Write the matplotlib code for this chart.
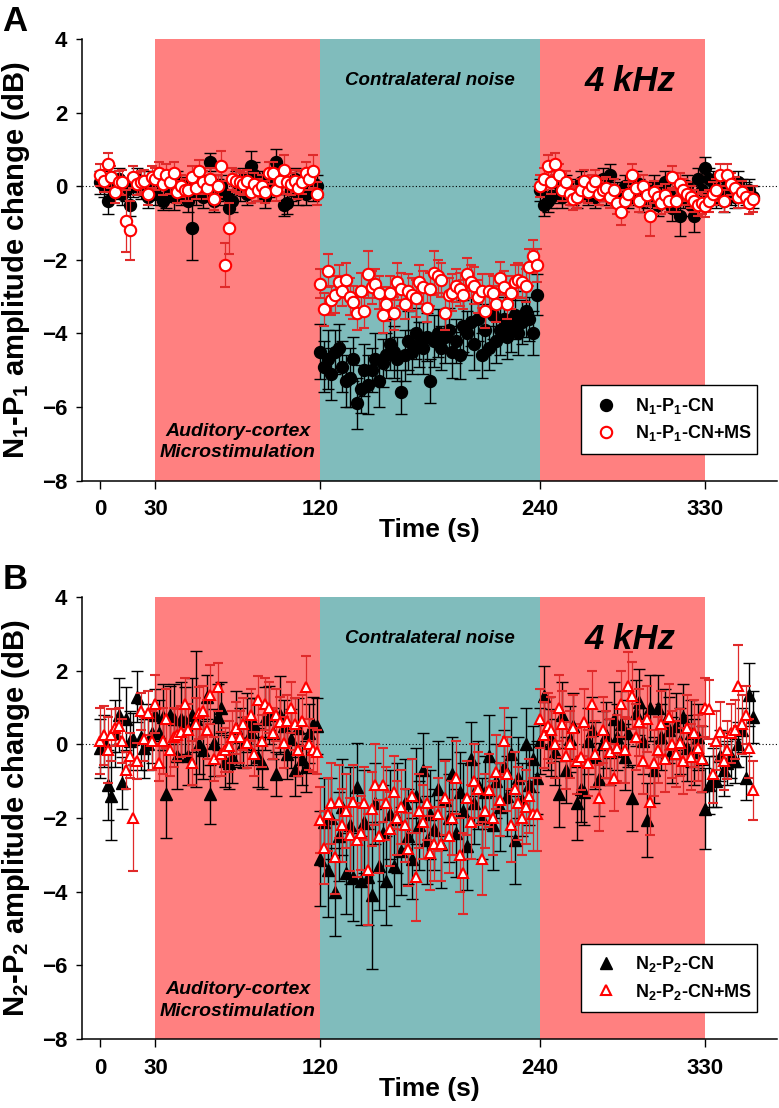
import numpy as np
import matplotlib
matplotlib.use('Agg')
import matplotlib.pyplot as plt
from matplotlib.lines import Line2D

plt.rcParams['font.family'] = 'Liberation Sans'
plt.rcParams['font.weight'] = 'bold'
plt.rcParams['mathtext.fontset'] = 'custom'
plt.rcParams['mathtext.rm'] = 'Liberation Sans:bold'
plt.rcParams['mathtext.bf'] = 'Liberation Sans:bold'
plt.rcParams['mathtext.it'] = 'Liberation Sans:bold:italic'
plt.rcParams['mathtext.default'] = 'rm'

# Sampling grid (s): one sweep every 2 s
time_s = np.arange(0, 358, 2)

# ---- Panel A: N1-P1 (dB) ----  segments: pre(15) | MS(45) | CN(60) | post(45) | tail(14)
n1_cn = [
    0.1, 0.0, -0.4, 0.1, -0.1, 0.2, -0.2, -0.1, -0.5, 0.0, 0.2, -0.1, 0.1, -0.3, 0.1,
    -0.2, 0.1, -0.4, -0.3, 0.0, -0.3, 0.1, -0.2, 0.0, -0.4,
    -1.15, -0.2, 0.1, -0.3, 0.0, 0.65, -0.4, -0.1, 0.0, -0.2,
    -0.6, -0.4, 0.1, -0.1, 0.2, -0.2, 0.55, 0.3, -0.1, 0.1,
    -0.3, 0.0, 0.2, 0.65, 0.1, -0.5, -0.45, -0.1, 0.2, -0.2,
    0.1, -0.2, 0.0, -0.1, 0.0,
    -4.5, -4.9, -4.7, -5.1, -4.5, -4.4, -4.9, -5.3, -5.2, -4.7,
    -5.9, -5.5, -5.0, -5.4, -5.0, -4.7, -5.3, -4.8, -4.6, -4.3,
    -4.5, -4.7, -5.6, -4.6, -4.2, -4.5, -4.0, -4.3, -4.4, -4.1,
    -5.3, -4.2, -4.0, -4.4, -4.1, -3.9, -4.5, -4.2, -4.6, -3.8,
    -4.0, -3.7, -4.3, -3.6, -4.6, -3.9, -4.4, -3.5, -4.2, -3.9,
    -3.6, -4.1, -3.8, -3.5, -4.0, -3.7, -3.4, -3.6, -4.0, -2.95,
    -0.1, -0.5, -0.4, -0.3, 0.1, -0.2, -0.3, 0.0, -0.1, -0.2,
    -0.3, 0.1, -0.1, -0.2, 0.0, -0.3, -0.1, 0.2, -0.2, 0.3,
    -0.1, -0.2, -0.4, 0.0, -0.3, -0.2, 0.1, -0.1, -0.4, -0.3,
    -0.2, 0.0, -0.5, -0.3, 0.1, -0.2, -0.6, -0.4, -0.8, -0.3,
    0.0, -0.5, -0.8, 0.2, -0.1,
    0.5, 0.2, 0.1, -0.3, -0.2, -0.4, 0.0, -0.2, -0.3, 0.1, -0.1, -0.2, -0.1, -0.3,
]
n1_cn_err = [
    0.3, 0.3, 0.35, 0.3, 0.25, 0.3, 0.3, 0.3, 0.3, 0.3, 0.3, 0.25, 0.3, 0.3, 0.3,
    0.3, 0.3, 0.25, 0.3, 0.3, 0.35, 0.3, 0.3, 0.25, 0.3,
    0.85, 0.3, 0.3, 0.3, 0.3, 0.25, 0.3, 0.3, 0.3, 0.3,
    0.5, 0.3, 0.3, 0.3, 0.3, 0.3, 0.4, 0.35, 0.3, 0.3,
    0.3, 0.3, 0.3, 0.35, 0.3, 0.3, 0.3, 0.3, 0.3, 0.3,
    0.3, 0.3, 0.3, 0.3, 0.3,
    0.75, 0.7, 0.8, 0.7, 0.6, 0.65, 0.7, 0.7, 0.8, 0.6,
    0.7, 0.65, 0.7, 0.8, 0.6, 0.7, 0.7, 0.65, 0.6, 0.7,
    0.7, 0.6, 0.6, 0.7, 0.8, 0.6, 0.7, 0.6, 0.7, 0.65,
    0.6, 0.7, 0.65, 0.6, 0.7, 0.6, 0.7, 0.6, 0.65, 0.7,
    0.6, 0.65, 0.7, 0.6, 0.6, 0.7, 0.6, 0.65, 0.6, 0.7,
    0.6, 0.6, 0.7, 0.65, 0.6, 0.6, 0.7, 0.6, 0.6, 0.55,
    0.3, 0.3, 0.3, 0.3, 0.3, 0.25, 0.3, 0.3, 0.3, 0.3,
    0.3, 0.3, 0.3, 0.3, 0.3, 0.3, 0.3, 0.3, 0.3, 0.3,
    0.3, 0.3, 0.3, 0.3, 0.3, 0.3, 0.3, 0.3, 0.3, 0.3,
    0.3, 0.3, 0.3, 0.3, 0.3, 0.3, 0.35, 0.3, 0.55, 0.3,
    0.3, 0.3, 0.45, 0.3, 0.3,
    0.3, 0.3, 0.3, 0.3, 0.3, 0.3, 0.3, 0.3, 0.3, 0.3, 0.3, 0.3, 0.3, 0.3,
]
n1_ms = [
    0.3, 0.15, 0.6, 0.25, -0.15, 0.1, 0.1, -0.95, -1.2, 0.25, 0.05, 0.1, 0.15, -0.2, 0.25,
    0.2, 0.35, 0.05, 0.3, 0.1, 0.35, -0.15, 0.0, -0.1, -0.1,
    0.25, -0.05, 0.4, 0.1, -0.05, 0.2, -0.35, 0.0, 0.55, -2.15,
    -1.15, 0.2, 0.15, 0.1, 0.05, 0.15, -0.15, 0.05, -0.1, 0.0,
    -0.15, 0.35, 0.35, -0.1, 0.15, 0.45, 0.1, 0.05, 0.15, -0.05,
    0.1, 0.35, 0.2, 0.4, -0.2,
    -2.65, -3.35, -2.3, -3.1, -2.95, -2.6, -2.85, -2.55, -3.0, -3.15,
    -3.45, -2.85, -3.4, -2.4, -2.75, -2.65, -2.9, -3.5, -3.2, -2.9,
    -3.45, -2.6, -2.8, -3.2, -2.85, -2.95, -3.05, -2.6, -2.75, -3.3,
    -2.8, -2.35, -2.45, -2.55, -3.45, -2.95, -2.9, -2.7, -2.8, -2.95,
    -2.4, -2.6, -2.7, -3.0, -2.85, -3.4, -2.85, -2.9, -3.2, -2.5,
    -2.75, -3.2, -2.9, -2.6, -2.55, -2.6, -2.7, -2.2, -1.9, -2.15,
    0.0, 0.2, 0.55, 0.1, 0.6, 0.3, -0.1, 0.1, -0.2, -0.35,
    -0.3, -0.1, 0.15, -0.15, 0.0, 0.15, -0.2, -0.1, -0.05, -0.3,
    -0.1, -0.45, -0.7, -0.4, -0.2, 0.3, -0.05, -0.4, 0.0, -0.25,
    -0.8, -0.15, -0.3, -0.45, -0.25, -0.4, 0.25, -0.4, 0.05, -0.1,
    -0.2, -0.3, -0.4, -0.5, -0.45,
    -0.55, -0.4, -0.2, -0.1, 0.3, -0.4, 0.3, 0.05, -0.05, -0.3, -0.15, -0.3, -0.45, -0.35,
]
n1_ms_err = [
    0.3, 0.3, 0.3, 0.3, 0.3, 0.3, 0.35, 0.85, 0.8, 0.3, 0.3, 0.3, 0.3, 0.3, 0.3,
    0.3, 0.3, 0.3, 0.3, 0.3, 0.3, 0.3, 0.3, 0.3, 0.3,
    0.3, 0.3, 0.3, 0.3, 0.3, 0.3, 0.3, 0.3, 0.4, 0.6,
    0.7, 0.3, 0.3, 0.3, 0.3, 0.3, 0.3, 0.3, 0.3, 0.3,
    0.3, 0.3, 0.3, 0.3, 0.3, 0.4, 0.3, 0.3, 0.3, 0.3,
    0.3, 0.3, 0.3, 0.45, 0.3,
    0.4, 0.45, 0.45, 0.4, 0.5, 0.45, 0.4, 0.45, 0.5, 0.45,
    0.45, 0.5, 0.45, 0.65, 0.45, 0.4, 0.45, 0.5, 0.45, 0.45,
    0.45, 0.5, 0.45, 0.4, 0.45, 0.45, 0.5, 0.45, 0.45, 0.4,
    0.45, 0.6, 0.45, 0.45, 0.45, 0.45, 0.5, 0.45, 0.45, 0.4,
    0.45, 0.45, 0.5, 0.45, 0.45, 0.45, 0.45, 0.45, 0.5, 0.45,
    0.45, 0.4, 0.45, 0.45, 0.45, 0.45, 0.45, 0.5, 0.45, 0.45,
    0.3, 0.3, 0.3, 0.3, 0.3, 0.3, 0.3, 0.3, 0.3, 0.3,
    0.3, 0.3, 0.3, 0.3, 0.3, 0.3, 0.3, 0.3, 0.3, 0.3,
    0.3, 0.3, 0.35, 0.3, 0.3, 0.3, 0.3, 0.3, 0.3, 0.3,
    0.55, 0.3, 0.3, 0.3, 0.3, 0.3, 0.3, 0.3, 0.3, 0.3,
    0.3, 0.3, 0.3, 0.3, 0.3,
    0.3, 0.3, 0.3, 0.3, 0.3, 0.3, 0.3, 0.3, 0.3, 0.3, 0.3, 0.3, 0.3, 0.35,
]

# ---- Panel B: N2-P2 (dB) ----
n2_cn = [
    -0.1, 0.1, -1.1, -1.4, 0.3, 0.8, -1.05, 0.7, 0.1, 0.15, 1.3, 0.2, -0.1, 0.0, 0.3,
    0.8, 0.3, 0.75, -1.35, 0.8, 0.7, -0.3, 0.7, 0.65, -0.3,
    0.8, 0.7, 0.0, -0.15, 1.3, -1.35, 0.05, 0.75, 1.0, -0.45,
    -0.5, -0.35, 0.45, 0.2, 0.05, 0.6, 0.35, 0.55, -0.35, -0.5,
    0.7, 0.8, 0.3, -0.8, 0.8, 0.5, -0.25, 0.15, -0.7, 0.45,
    -0.4, -0.6, 0.3, 0.55, 0.5,
    -3.1, -2.1, -3.4, -2.0, -4.0, -2.5, -1.7, -3.5, -2.2, -3.6,
    -1.15, -3.7, -2.1, -3.6, -4.1, -1.6, -3.3, -2.4, -3.7, -1.9,
    -3.3, -2.0, -2.9, -1.6, -2.5, -3.1, -1.4, -2.2, -0.7, -2.6,
    -1.9, -2.3, -1.2, -2.7, -1.5, -2.0, -0.8, -2.4, -1.3, -1.8,
    -2.75, -0.4, -1.6, -1.1, -2.0, -1.3, -0.3, -2.2, -1.0, -1.7,
    -0.6, -1.4, -0.25, -2.6, -0.9, -1.5, 0.0, -1.1, -0.4, -0.9,
    0.1, 1.33, 0.3, 0.05, -0.2, -1.35, 0.8, -0.7, 0.15, 0.5,
    -1.6, -1.2, -1.3, 0.1, 0.4, -0.3, -0.95, 0.0, 0.25, -0.2,
    0.7, 0.2, 0.55, -0.35, 0.3, -1.45, 0.85, 1.15, 0.1, -2.05,
    1.0, -0.7, 1.0, 0.2, 0.6, 0.4, -0.15, 0.5, 0.1, 0.75,
    -0.1, 0.3, -0.2, 0.2, -0.4,
    -1.75, -1.1, -0.9, -1.0, -0.3, -0.7, -0.5, -0.3, -0.45, 0.0, 0.4, -0.9, 1.35, 0.75,
]
n2_cn_err = [
    0.8, 0.7, 0.95, 1.2, 0.9, 1.0, 0.7, 0.85, 0.8, 0.7, 0.7, 0.9, 0.8, 0.7, 0.8,
    0.7, 0.9, 0.9, 1.2, 0.8, 0.95, 0.9, 1.0, 0.9, 0.8,
    1.0, 1.85, 0.8, 0.8, 0.6, 0.8, 0.9, 0.9, 0.7, 0.7,
    0.7, 0.7, 1.0, 0.8, 0.7, 0.8, 0.9, 0.7, 0.8, 0.7,
    0.85, 0.8, 0.7, 0.6, 1.05, 0.7, 0.7, 0.8, 0.7, 0.8,
    0.7, 0.7, 0.8, 0.75, 0.75,
    1.3, 1.2, 1.3, 1.1, 1.2, 1.2, 1.3, 1.1, 1.6, 1.2,
    1.2, 1.2, 1.4, 1.3, 2.0, 1.1, 1.2, 1.3, 1.2, 1.2,
    1.1, 1.5, 1.2, 1.2, 1.3, 1.1, 1.3, 1.2, 1.0, 1.2,
    1.2, 1.1, 1.3, 1.2, 1.1, 1.2, 1.0, 1.2, 1.1, 1.3,
    1.2, 1.0, 1.1, 1.2, 1.1, 1.0, 1.1, 1.2, 1.0, 1.2,
    1.0, 1.1, 1.0, 1.2, 1.1, 1.0, 1.0, 1.1, 0.9, 1.0,
    0.9, 0.8, 1.0, 0.9, 0.9, 0.9, 0.9, 0.9, 0.9, 0.9,
    1.0, 0.9, 0.9, 0.9, 0.9, 0.9, 1.0, 0.9, 0.9, 0.9,
    1.0, 0.9, 0.9, 0.9, 0.9, 0.9, 0.9, 0.9, 0.9, 1.0,
    0.9, 0.9, 0.9, 0.9, 0.9, 0.9, 0.9, 0.9, 0.9, 0.9,
    0.9, 0.9, 0.9, 0.9, 0.9,
    1.1, 0.8, 0.8, 0.7, 0.7, 0.7, 0.6, 0.6, 0.6, 0.6, 0.6, 0.6, 0.85, 0.7,
]
n2_ms = [
    0.1, 0.25, -0.15, 0.25, 0.45, 0.5, 0.1, -0.7, -0.3, -2.0, -0.45, 0.9, 0.15, 0.85, 0.1,
    1.1, -0.5, 0.1, 0.7, -0.15, 0.2, 0.25, 0.35, 1.1, 0.4,
    -0.5, 0.55, 0.85, 0.9, 0.4, 1.35, -0.4, 1.55, -0.25, -0.15,
    -0.05, 0.2, 0.45, 0.2, 0.55, 0.05, 0.8, -0.25, 1.2, 0.1,
    1.1, 1.0, 0.3, 0.8, 0.6, 0.05, 0.65, 1.0, 0.55, -0.15,
    0.65, 1.55, 0.0, -0.15, -0.2,
    -2.05, -2.8, -1.9, -1.6, -3.05, -1.55, -2.2, -1.8, -2.45, -1.55,
    -2.6, -2.4, -1.6, -3.4, -1.75, -1.1, -2.5, -1.1, -1.6, -2.3,
    -1.3, -2.0, -1.7, -2.2, -2.85, -1.4, -3.6, -1.8, -2.1, -1.6,
    -2.95, -2.7, -1.9, -2.7, -1.45, -2.5, -2.0, -0.9, -3.0, -3.5,
    -1.45, -2.1, -1.0, -1.2, -3.1, -1.8, -1.25, -2.0, -0.75, -1.5,
    0.1, -0.8, -2.2, -1.2, -1.6, -2.0, -1.7, -1.4, -1.9, -1.9,
    0.7, 0.25, 0.5, 0.4, 0.0, 1.0, 0.55, -0.3, 0.0, 0.45,
    -0.45, -0.35, 0.6, -0.5, 1.1, -0.25, -1.45, 0.4, 0.0, -0.2,
    -0.9, -0.1, 1.1, -0.15, 1.6, 1.33, 0.2, 0.6, -0.45, 0.7,
    -1.55, -0.5, -0.15, 0.55, -0.4, 0.75, 0.0, -0.25, 0.05, -0.45,
    0.45, -0.35, 0.3, -0.1, -0.4,
    1.0, 0.95, -0.8, 0.1, 0.35, -0.45, -0.15, 0.3, 0.4, 1.6, 0.55, 0.8, -0.1, -1.25,
]
n2_ms_err = [
    0.9, 0.8, 0.9, 0.7, 0.5, 0.5, 0.6, 0.5, 0.6, 1.45, 0.5, 0.5, 0.6, 0.6, 0.8,
    0.8, 0.5, 0.9, 0.8, 0.7, 0.8, 0.7, 0.7, 0.7, 0.7,
    0.6, 0.7, 0.7, 0.7, 0.8, 0.8, 0.6, 0.65, 0.6, 0.6,
    0.7, 0.7, 0.7, 0.7, 0.7, 0.7, 0.7, 0.6, 0.65, 0.7,
    0.7, 0.7, 0.7, 0.7, 0.7, 0.7, 0.7, 0.7, 0.7, 0.7,
    0.7, 0.85, 0.7, 0.6, 0.6,
    0.9, 1.0, 1.0, 1.1, 1.0, 1.0, 1.0, 1.0, 1.0, 1.0,
    1.0, 1.0, 1.0, 1.5, 1.0, 1.1, 1.0, 1.0, 1.0, 1.0,
    1.0, 1.0, 1.0, 1.0, 1.0, 1.0, 1.2, 1.0, 1.0, 1.0,
    1.0, 1.0, 1.0, 1.0, 1.0, 1.0, 1.0, 1.0, 1.0, 1.1,
    1.0, 1.0, 1.0, 1.0, 1.0, 1.0, 1.0, 1.0, 1.0, 1.0,
    0.9, 1.0, 1.0, 1.0, 1.0, 1.0, 1.0, 1.0, 1.0, 1.0,
    0.8, 0.9, 0.9, 0.9, 0.9, 0.9, 0.9, 0.9, 0.9, 0.9,
    0.9, 0.9, 0.9, 0.9, 0.9, 0.9, 0.9, 0.9, 0.9, 0.9,
    0.9, 0.9, 0.9, 0.9, 0.9, 0.9, 0.9, 0.9, 0.9, 0.9,
    0.9, 0.9, 0.9, 0.9, 0.9, 0.9, 0.9, 0.9, 0.9, 0.9,
    0.9, 0.9, 0.9, 0.9, 0.9,
    0.8, 0.8, 0.8, 0.8, 0.8, 0.8, 0.8, 0.8, 0.8, 1.1, 0.8, 0.8, 0.8, 0.8,
]

# Protocol epochs (s)
ms_epochs = [(30, 120), (240, 330)]
cn_epoch = (120, 240)
xticks = [0, 30, 120, 240, 330]
yticks = [-8, -6, -4, -2, 0, 2, 4]

red_band = '#FF8080'
teal_band = '#80BCBC'
red_bar = '#E02A2A'


def draw_panel(ax, cn, cn_err, ms, ms_err, marker, msize, labels, ylabel, letter):
    for lo, hi in ms_epochs:
        ax.axvspan(lo, hi, color=red_band, lw=0, zorder=0)
    ax.axvspan(cn_epoch[0], cn_epoch[1], color=teal_band, lw=0, zorder=0)
    ax.axhline(0, color='black', lw=0.8, ls=(0, (1, 2)), zorder=1)

    ax.errorbar(time_s, cn, yerr=cn_err, fmt=marker, ms=msize, mfc='black', mec='black',
                ecolor='black', elinewidth=1.0, capsize=4.3, capthick=1.0, zorder=2)
    ax.errorbar(time_s, ms, yerr=ms_err, fmt=marker, ms=msize - 0.4, mfc='white', mec='red',
                mew=1.5, ecolor=red_bar, elinewidth=0.9, capsize=3.6, capthick=0.9, zorder=3)

    ax.set_xlim(-10, 369)
    ax.set_ylim(-8, 4)
    ax.set_xticks(xticks)
    ax.set_yticks(yticks)
    for s in ['top', 'right']:
        ax.spines[s].set_visible(False)
    for s in ['left', 'bottom']:
        ax.spines[s].set_linewidth(1.1)
    ax.tick_params(axis='y', direction='out', length=4.5, width=1.0, labelsize=16, pad=6)
    ax.tick_params(axis='x', direction='out', length=5.5, width=1.0, labelsize=16, pad=8)
    for lab in ax.get_xticklabels() + ax.get_yticklabels():
        lab.set_fontweight('bold')

    ax.set_ylabel(ylabel, fontsize=21, fontweight='bold')
    ax.yaxis.set_label_coords(-0.072, 0.5)
    ax.set_xlabel('Time (s)', fontsize=19, fontweight='bold')
    ax.xaxis.set_label_coords(0.5, -0.085)

    ax.text(180, 2.75, 'Contralateral noise', ha='center', va='baseline',
            fontsize=13.5, fontweight='bold', style='italic')
    ax.text(289, 2.59, '4 kHz', ha='center', va='baseline',
            fontsize=25, fontweight='bold', style='italic')
    ax.text(75, -6.78, 'Auditory-cortex', ha='center', va='baseline',
            fontsize=14, fontweight='bold', style='italic')
    ax.text(75, -7.37, 'Microstimulation', ha='center', va='baseline',
            fontsize=14, fontweight='bold', style='italic')

    handles = [Line2D([], [], ls='none', marker=marker, ms=msize, mfc='black', mec='black'),
               Line2D([], [], ls='none', marker=marker, ms=msize - 0.4, mfc='white', mec='red', mew=1.5)]
    leg = ax.legend(handles, labels, loc='lower left', bbox_to_anchor=(0.718, 0.06, 0.253, 0.15),
                    mode='expand', borderaxespad=0, fancybox=False, framealpha=1,
                    edgecolor='black', fontsize=13, borderpad=0.6, labelspacing=0.4,
                    handlelength=1.6, handletextpad=0.8)
    leg.get_frame().set_linewidth(1.0)
    for t in leg.get_texts():
        t.set_fontweight('bold')

    fig.text(0.003, ax.get_position().y1 + 0.031, letter, ha='left', va='top',
             fontsize=25, fontweight='bold')


fig = plt.figure(figsize=(7.79, 11.08), dpi=100)
ax_a = fig.add_axes([0.1053, 0.5662, 0.8918, 0.3987])
ax_b = fig.add_axes([0.1053, 0.0623, 0.8918, 0.3987])

draw_panel(ax_a, n1_cn, n1_cn_err, n1_ms, n1_ms_err, 'o', 8.6,
           ['N$_1$-P$_1$-CN', 'N$_1$-P$_1$-CN+MS'], 'N$_1$-P$_1$ amplitude change (dB)', 'A')
draw_panel(ax_b, n2_cn, n2_cn_err, n2_ms, n2_ms_err, '^', 8.2,
           ['N$_2$-P$_2$-CN', 'N$_2$-P$_2$-CN+MS'], 'N$_2$-P$_2$ amplitude change (dB)', 'B')

fig.savefig('out.png', dpi=100)
